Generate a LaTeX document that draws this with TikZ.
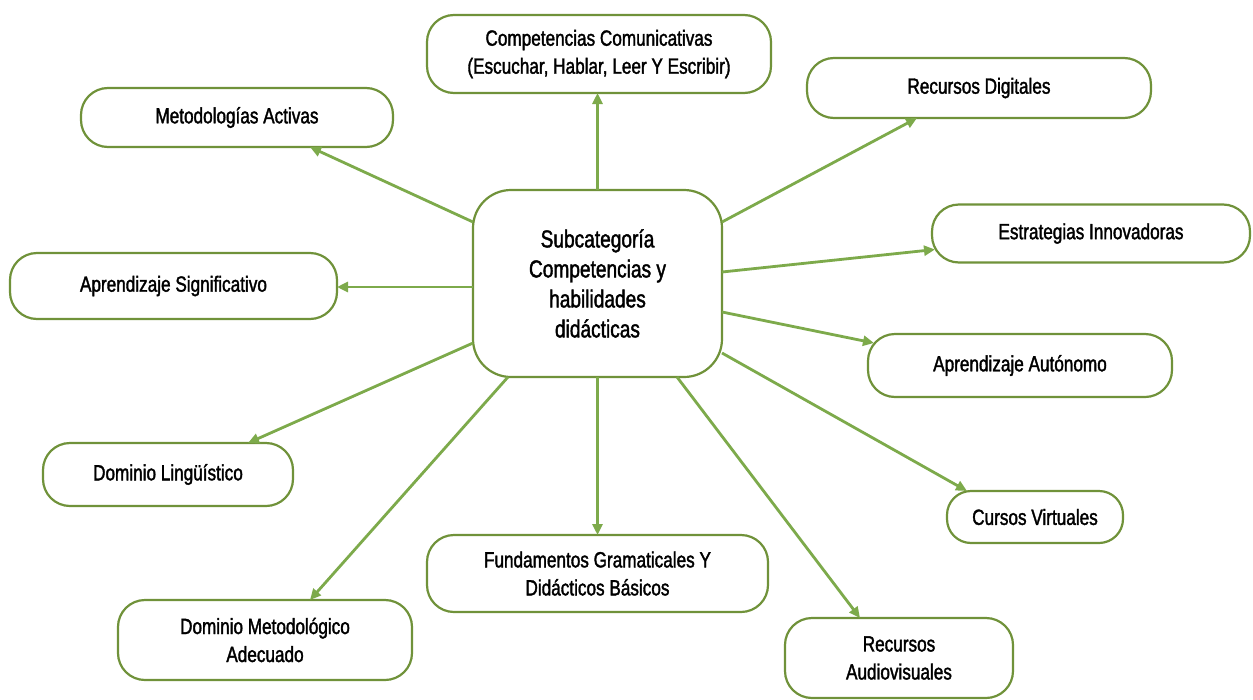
\documentclass[tikz,border=0pt]{standalone}
\usepackage{fontspec}
\setmainfont[FakeStretch=0.78,FakeBold=1.6]{Liberation Sans}
\usetikzlibrary{arrows.meta,calc}
\definecolor{boxline}{RGB}{112,146,58}
\definecolor{arrowgreen}{RGB}{125,170,75}
\begin{document}
\begin{tikzpicture}[x=1pt,y=-1pt,
  box/.style={draw=boxline, line width=2.2pt, rounded corners=27pt, fill=white,
    align=center, inner sep=0pt, outer sep=0pt,
    font=\fontsize{22}{28}\selectfont, text=black},
  hub/.style={box, rounded corners=38pt, font=\fontsize{24.5}{30}\selectfont},
  arr/.style={draw=arrowgreen, line width=2.8pt, -{Triangle[length=11pt,width=10pt]}}]

% canvas
\fill[white] (0,0) rectangle (1253,699);
\useasboundingbox (0,0) rectangle (1253,699);

% central concept
\node[hub, minimum width=249pt, minimum height=187pt] (c) at (597.5,283.5)
  {Subcategoría\\Competencias y\\habilidades\\didácticas};

% surrounding concepts
\node[box, minimum width=344pt, minimum height=78pt] (cc) at (599,54)
  {Competencias Comunicativas\\(Escuchar, Hablar, Leer Y Escribir)};
\node[box, minimum width=312pt, minimum height=59pt] (ma) at (237,117.5)
  {Metodologías Activas};
\node[box, minimum width=344pt, minimum height=60pt] (rd) at (979,88)
  {Recursos Digitales};
\node[box, minimum width=318pt, minimum height=58pt] (ei) at (1091,233.5)
  {Estrategias Innovadoras};
\node[box, minimum width=327pt, minimum height=66pt] (as) at (173.5,286)
  {Aprendizaje Significativo};
\node[box, minimum width=304pt, minimum height=63pt] (aa) at (1020,365.5)
  {Aprendizaje Autónomo};
\node[box, minimum width=250pt, minimum height=63pt] (dl) at (168,474.5)
  {Dominio Lingüístico};
\node[box, rounded corners=24pt, minimum width=176pt, minimum height=52pt] (cv) at (1035,517)
  {Cursos Virtuales};
\node[box, minimum width=341pt, minimum height=77pt] (fg) at (597.5,573.5)
  {Fundamentos Gramaticales Y\\Didácticos Básicos};
\node[box, minimum width=294pt, minimum height=80pt] (dm) at (265,640)
  {Dominio Metodológico\\Adecuado};
\node[box, minimum width=228pt, minimum height=80pt] (ra) at (899,658)
  {Recursos\\Audiovisuales};

% connectors
\draw[arr] (c.north) -- (c.north |- cc.south);
\draw[arr] ($(c.west)+(0,-61.5)$) -- ($(ma.south)+(73,0)$);
\draw[arr] ($(c.east)+(0,-61.5)$) -- ($(rd.south)+(-62,0)$);
\draw[arr] ($(c.east)+(0,-11.5)$) -- ($(ei.west)+(3,16)$);
\draw[arr] ($(c.west)+(0,3.5)$) -- ($(as.east)+(0,1)$);
\draw[arr] ($(c.east)+(0,28.5)$) -- ($(aa.north west)+(6,9)$);
\draw[arr] ($(c.west)+(0,59.5)$) -- ($(dl.north)+(80,0)$);
\draw[arr] ($(c.east)+(0,69.5)$) -- ($(cv.north)+(-68,0)$);
\draw[arr] (c.south) -- (c.south |- fg.north);
\draw[arr] ($(c.south)+(-89.5,0)$) -- ($(dm.north)+(45,0)$);
\draw[arr] ($(c.south)+(79.5,0)$) -- ($(ra.north)+(-39,0)$);
\end{tikzpicture}
\end{document}
